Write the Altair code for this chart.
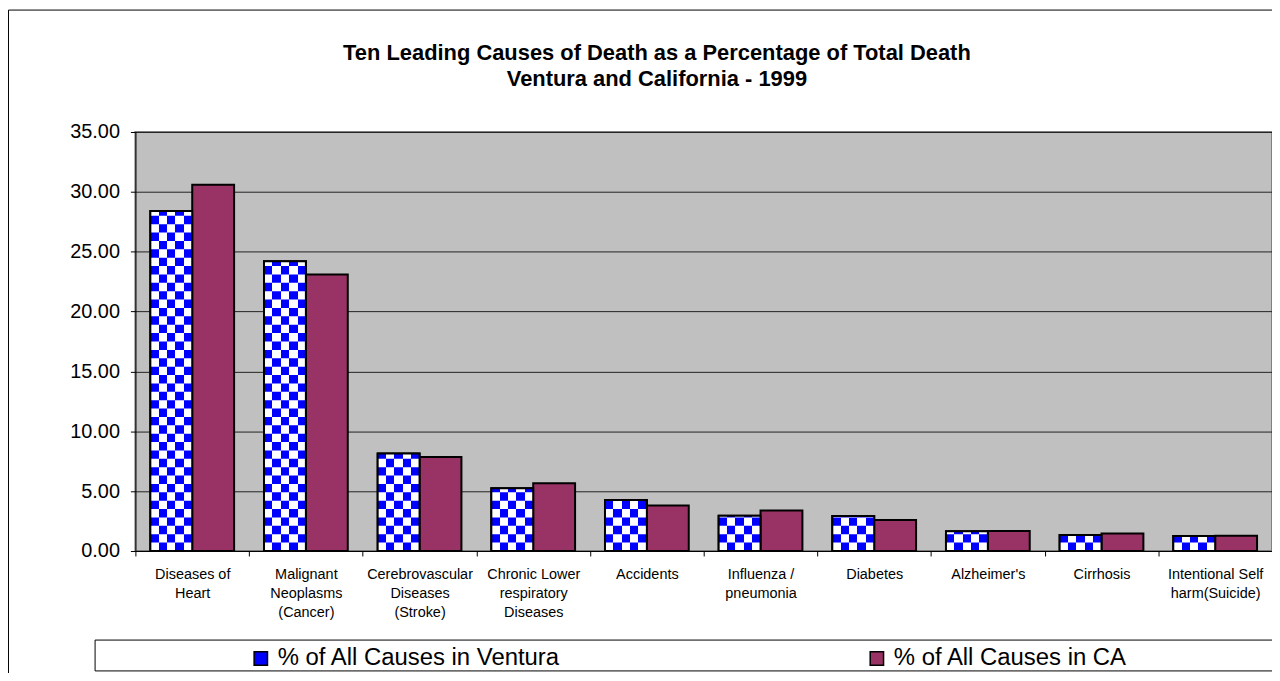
import altair as alt
import pandas as pd

# ---------------- data ----------------
causes = [
    "Diseases of|Heart",
    "Malignant|Neoplasms|(Cancer)",
    "Cerebrovascular|Diseases|(Stroke)",
    "Chronic Lower|respiratory|Diseases",
    "Accidents",
    "Influenza /|pneumonia",
    "Diabetes",
    "Alzheimer's",
    "Cirrhosis",
    "Intentional Self|harm(Suicide)",
]
ventura = [28.4, 24.2, 8.15, 5.25, 4.27, 2.95, 2.93, 1.64, 1.33, 1.25]
california = [30.6, 23.1, 7.85, 5.65, 3.80, 3.38, 2.58, 1.68, 1.47, 1.28]
series_names = ["% of All Causes in Ventura", "% of All Causes in CA"]
y_ticks = [0, 5, 10, 15, 20, 25, 30, 35]
title_lines = [
    "Ten Leading Causes of Death as a Percentage of Total Death",
    "Ventura and California - 1999",
]

rows = []
for c, v, ca in zip(causes, ventura, california):
    rows.append({"cause": c, "series": series_names[0], "value": v})
    rows.append({"cause": c, "series": series_names[1], "value": ca})
df = pd.DataFrame(rows)

# ---------------- styling ----------------
W, H = 1142, 421
CELL = 0.7  # checker row height in axis units
FONT = "Liberation Sans"
BLUE = "#0000FF"
PLUM = "#993366"


def stripes(first, second, n=5):
    stops = []
    cols = [first, second]
    for i in range(n):
        col = cols[i % 2]
        stops.append(alt.GradientStop(color=col, offset=i / n))
        stops.append(alt.GradientStop(color=col, offset=(i + 1) / n))
    return alt.LinearGradient(gradient="linear", stops=stops, x1=0, x2=1, y1=0, y2=0)


grad_a = stripes("white", BLUE)
grad_b = stripes(BLUE, "white")

x_enc = alt.X(
    "cause:N",
    sort=causes,
    title=None,
    scale=alt.Scale(paddingInner=0, paddingOuter=0),
    axis=alt.Axis(labelExpr="split(datum.label, '|')", tickBand="extent", labelAngle=0),
)
xo_enc = alt.XOffset(
    "series:N",
    sort=series_names,
    scale=alt.Scale(domain=series_names, paddingInner=0, paddingOuter=0.357),
)
y_enc = alt.Y(
    "value:Q",
    stack=None,
    title=None,
    scale=alt.Scale(domain=[0, 35], nice=False),
    axis=alt.Axis(values=y_ticks, format=".2f"),
)

one = alt.Data(values=[{"k": 0}])

frame = alt.Chart(one).mark_rect(fillOpacity=0, stroke="black", strokeWidth=1).encode(
    x=alt.value(-127.5), x2=alt.value(W + 60), y=alt.value(-122.5), y2=alt.value(H + 300)
)

legend_box = alt.Chart(one).mark_rect(fill="white", stroke="black", strokeWidth=1).encode(
    x=alt.value(-40.5), x2=alt.value(W + 60), y=alt.value(510.5), y2=alt.value(541.5)
)

bars = alt.Chart(df).mark_bar(stroke="black", strokeWidth=2).encode(
    x=x_enc,
    xOffset=xo_enc,
    y=y_enc,
    fill=alt.Fill(
        "series:N",
        sort=series_names,
        scale=alt.Scale(domain=series_names, range=[BLUE, PLUM]),
        legend=alt.Legend(
            title=None,
            orient="none",
            legendX=114,
            legendY=517,
            direction="horizontal",
            symbolType="square",
            symbolSize=180,
            symbolStrokeColor="black",
            symbolStrokeWidth=1.5,
            symbolOpacity=1,
            labelFont=FONT,
            labelFontSize=24,
            labelColor="black",
            labelOffset=5,
            columnPadding=305,
            labelLimit=400,
        ),
    ),
)

ven = alt.Chart(df).transform_filter(alt.datum.series == series_names[0])

checker_base = ven.mark_bar(fill=grad_a).encode(
    x=alt.X("cause:N", sort=causes), xOffset=xo_enc, y=alt.Y("value:Q", stack=None)
)

checker_rows = (
    ven.transform_calculate(rows=f"sequence(0, ceil(datum.value / {CELL}))")
    .transform_flatten(["rows"])
    .transform_filter("datum.rows % 2 == 1")
    .transform_calculate(
        y0=f"datum.rows * {CELL}",
        y1=f"min((datum.rows + 1) * {CELL}, datum.value)",
    )
    .transform_filter("datum.y1 > datum.y0")
    .mark_bar(fill=grad_b)
    .encode(x=alt.X("cause:N", sort=causes), xOffset=xo_enc, y=alt.Y("y0:Q"), y2="y1:Q")
)

outline = ven.mark_bar(fillOpacity=0, stroke="black", strokeWidth=2).encode(
    x=alt.X("cause:N", sort=causes), xOffset=xo_enc, y=alt.Y("value:Q", stack=None)
)

chart = (
    alt.layer(frame, legend_box, bars, checker_base, checker_rows, outline)
    .properties(
        width=W,
        height=H,
        autosize=alt.AutoSizeParams(type="none"),
        padding={"left": 128, "top": 123, "right": 0, "bottom": 121},
        title=alt.TitleParams(
            text=title_lines,
            font=FONT,
            fontSize=22,
            fontWeight="bold",
            color="black",
            anchor="middle",
            frame="group",
            dx=-47,
            dy=125,
            offset=43,
            lineHeight=26,
        ),
    )
    .configure(background="white")
    .configure_view(fill="#C0C0C0", stroke="#808080", strokeWidth=2)
    .configure_axis(
        labelFont=FONT,
        labelColor="black",
        tickColor="black",
        domainColor="black",
        domainWidth=1,
        tickWidth=1,
    )
    .configure_axisX(
        labelFontSize=14.5,
        labelLineHeight=19,
        labelPadding=12,
        tickSize=5,
        labelBaseline="top",
        grid=False,
        labelLimit=200,
    )
    .configure_axisY(
        labelFontSize=20,
        labelPadding=11,
        tickSize=5,
        grid=True,
        gridColor="#222222",
        gridWidth=1,
        gridOpacity=1,
    )
)

chart.save("out.html", embed_options={"renderer": "svg", "actions": False})
